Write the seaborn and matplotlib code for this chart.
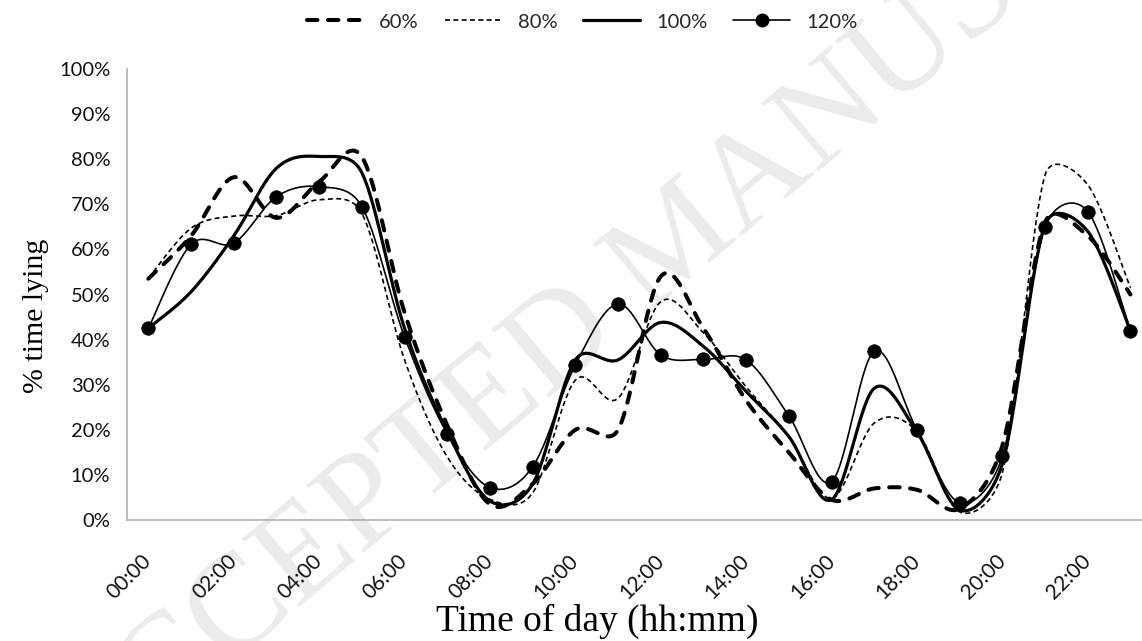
import numpy as np
import pandas as pd
import matplotlib
matplotlib.use("Agg")
import matplotlib.pyplot as plt
import seaborn as sns
from matplotlib.lines import Line2D

# ---------------- data (percent of time lying, hourly) ----------------
hour_labels = ["00:00", "01:00", "02:00", "03:00", "04:00", "05:00", "06:00", "07:00",
               "08:00", "09:00", "10:00", "11:00", "12:00", "13:00", "14:00", "15:00",
               "16:00", "17:00", "18:00", "19:00", "20:00", "21:00", "22:00", "23:00"]
series_names = ["60%", "80%", "100%", "120%"]
p60 = [53.5, 63, 76, 67, 75, 80.5, 46, 21, 3.5, 8, 20, 20, 54, 42.5, 26.5, 15, 4.5, 7, 6.7, 2.5, 16.5, 66, 63, 50]
p80 = [53.6, 64.7, 67.4, 67.5, 71, 68, 35.5, 14, 4.6, 6, 31, 27, 48.4, 41.5, 29.5, 18.5, 4.8, 21.5, 19.6, 1.8, 10.5, 76.5, 74.3, 51.5]
p100 = [42.5, 50.6, 63, 78, 80.6, 77, 42.5, 19.6, 4.2, 8, 35.5, 35.5, 43.8, 38.5, 28.5, 18.5, 4.5, 29.2, 19.5, 2.2, 12.5, 65.5, 64, 42]
p120 = [42.5, 61.1, 61.4, 71.7, 73.9, 69.5, 40.6, 19.1, 7.2, 11.8, 34.4, 47.9, 36.6, 35.6, 35.5, 23.1, 8.5, 37.4, 20, 3.8, 14.1, 65, 68.4, 41.9]
y_ticks = [0, 10, 20, 30, 40, 50, 60, 70, 80, 90, 100]

W, H = 1142, 641
ax_left, ax_right, ax_top, ax_bottom = 127, 127 + 24 * 42.7, 69, 520
PX_PER_HOUR = (ax_right - ax_left) / 24.0
PX_PER_PCT = (ax_bottom - ax_top) / 100.0


def excel_smooth(values, n=30):
    """Bezier smoothing in the manner of Excel's 'smoothed line' option."""
    P = np.column_stack([np.arange(len(values)), values]).astype(float)
    S = np.array([PX_PER_HOUR, PX_PER_PCT])
    segs = []
    t = np.linspace(0, 1, n, endpoint=False)[:, None]
    for i in range(len(P) - 1):
        p1, p2 = P[i], P[i + 1]
        p0 = P[i - 1] if i > 0 else P[i]
        p3 = P[i + 2] if i + 2 < len(P) else P[i + 1]
        d12 = np.linalg.norm((p2 - p1) * S)
        d02 = np.linalg.norm((p2 - p0) * S)
        d13 = np.linalg.norm((p3 - p1) * S)
        f = 1 / 6 if d02 / 6 < d12 / 2 else d12 / (2 * d02)
        g = 1 / 6 if d13 / 6 < d12 / 2 else d12 / (2 * d13)
        c1 = p1 + f * (p2 - p0)
        c2 = p2 - g * (p3 - p1)
        B = ((1 - t) ** 3) * p1 + 3 * ((1 - t) ** 2) * t * c1 + 3 * (1 - t) * t ** 2 * c2 + t ** 3 * p2
        segs.append(B)
    segs.append(P[-1:])
    B = np.vstack(segs)
    return B[:, 0], B[:, 1]


sns.set_theme(style="white")
plt.rcParams["font.family"] = ["Lato", "DejaVu Sans"]

fig = plt.figure(figsize=(W / 100, H / 100), dpi=100)
fig.patch.set_facecolor("white")
ax = fig.add_axes([ax_left / W, 1 - ax_bottom / H, (ax_right - ax_left) / W, (ax_bottom - ax_top) / H])
ax.patch.set_alpha(0)

# watermark (behind everything)
fig.text(680 / W, 1 - 245 / H, "ACCEPTED MANUSCRIPT", rotation=40, fontsize=98,
         family="Liberation Serif", color="#ebebeb", ha="center", va="center", zorder=-5)

styles = {
    "60%": dict(lw=2.9, linestyle=(0, (2.6, 2.6)), dash_capstyle="round"),
    "80%": dict(lw=1.2, linestyle=(0, (3.0, 2.0))),
    "100%": dict(lw=2.3, linestyle="-"),
    "120%": dict(lw=1.2, linestyle="-"),
}
all_vals = {"60%": p60, "80%": p80, "100%": p100, "120%": p120}

for name in series_names:
    sx, sy = excel_smooth(all_vals[name])
    df = pd.DataFrame({"x": sx, "y": sy})
    sns.lineplot(data=df, x="x", y="y", ax=ax, color="black", sort=False,
                 estimator=None, **styles[name])

pts = pd.DataFrame({"x": np.arange(len(p120)), "y": p120})
sns.scatterplot(data=pts, x="x", y="y", ax=ax, color="black", s=95, edgecolor="black",
                linewidth=0.5, zorder=5)

ax.set_xlim(-0.5, 23.5)
ax.set_ylim(0, 100)
ax.set_yticks(y_ticks)
ax.set_yticklabels([f"{v}%" for v in y_ticks])
ax.set_xticks(np.arange(0, 24, 2))
ax.set_xticklabels(hour_labels[::2], rotation=45, ha="right", va="center",
                   rotation_mode="anchor")
ax.set_xticks(np.arange(-0.5, 24, 1), minor=True)
ax.tick_params(axis="x", which="major", length=0, pad=27, labelsize=15, labelcolor="#111111")
ax.tick_params(axis="x", which="minor", length=6, width=1, color="#b0b0b0", direction="out")
ax.tick_params(axis="y", which="major", length=5, width=1, color="#b0b0b0", direction="out",
               pad=7, labelsize=14.5, labelcolor="#111111")
for s in ["top", "right"]:
    ax.spines[s].set_visible(False)
for s in ["left", "bottom"]:
    ax.spines[s].set_color("#b0b0b0")
    ax.spines[s].set_linewidth(1.2)

ax.set_xlabel("Time of day (hh:mm)", family="Liberation Serif", fontsize=27, color="black")
ax.set_ylabel("% time lying", family="Liberation Serif", fontsize=21.5, color="black")
ax.xaxis.set_label_coords((597 - ax_left) / (ax_right - ax_left), (ax_bottom - 621) / (ax_bottom - ax_top))
ax.xaxis.label.set_va("center")
ax.yaxis.set_label_coords((36 - ax_left) / (ax_right - ax_left), (ax_bottom - 316) / (ax_bottom - ax_top))
ax.yaxis.label.set_va("center")

handles = [
    Line2D([], [], color="black", **styles["60%"]),
    Line2D([], [], color="black", **styles["80%"]),
    Line2D([], [], color="black", **styles["100%"]),
    Line2D([], [], color="black", marker="o", markersize=9, **styles["120%"]),
]
fig.legend(handles, series_names, loc="center", bbox_to_anchor=(582 / W, 1 - 22 / H),
           ncol=4, frameon=False, fontsize=14.5, handlelength=2.8, handletextpad=0.8,
           columnspacing=1.3, numpoints=1)

fig.savefig("out.png", dpi=100, facecolor="white")
